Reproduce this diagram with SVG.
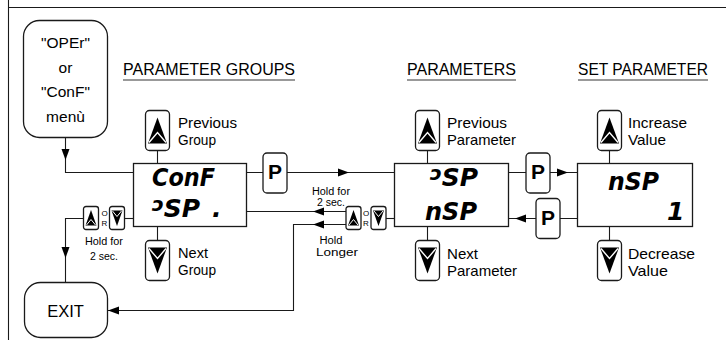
<svg xmlns="http://www.w3.org/2000/svg" xmlns:xlink="http://www.w3.org/1999/xlink" width="726" height="340" viewBox="0 0 726 340">
<style>
.ln{fill:none;stroke:#1a1a1a;stroke-width:1.1}
.bx{fill:#fff;stroke:#1a1a1a;stroke-width:1.3}
.t{font-family:"Liberation Sans",Arial,sans-serif;fill:#000}
.h{font-size:17px}
.lb{font-size:15px}
.sm{font-size:11.5px}
.xs{font-size:10px}
.or{font-size:8px}
.d{font-family:"DejaVu Sans",sans-serif;font-weight:bold;font-style:italic;font-size:25px;fill:#000}
.ul{stroke:#777;stroke-width:1.6}
</style>
<defs>
<path id="ah" d="M0,0 L-11,-4 L-11,4 Z" fill="#000"/>
<g id="kup">
<rect x="0" y="0" width="24" height="40" rx="4" class="bx"/>
<path d="M12,7 L21.5,33 L2.5,33 Z" fill="#000"/>
<path d="M3.5,32 L12,22 L20.5,32" fill="none" stroke="#fff" stroke-width="1.4"/>
</g>
<g id="kdn">
<rect x="0" y="0" width="24" height="40" rx="4" class="bx"/>
<path d="M2.5,7 L21.5,7 L12,33 Z" fill="#000"/>
<path d="M3.5,8 L12,18 L20.5,8" fill="none" stroke="#fff" stroke-width="1.4"/>
</g>
<g id="kp">
<rect x="0" y="0" width="24" height="40" rx="4" class="bx"/>
<text x="12" y="26" text-anchor="middle" style="font-family:'Liberation Sans',Arial,sans-serif;font-weight:bold;font-size:21px">P</text>
</g>
<g id="sup">
<rect x="0" y="0" width="15" height="23" rx="2.5" class="bx"/>
<path d="M7.5,3.5 L13,19 L2,19 Z" fill="#000"/>
<path d="M3,18.5 L7.5,13 L12,18.5" fill="none" stroke="#fff" stroke-width="1"/>
</g>
<g id="sdn">
<rect x="0" y="0" width="15" height="23" rx="2.5" class="bx"/>
<path d="M2,4 L13,4 L7.5,19.5 Z" fill="#000"/>
<path d="M3,4.5 L7.5,10 L12,4.5" fill="none" stroke="#fff" stroke-width="1"/>
</g>
</defs>
<rect width="726" height="340" fill="#fff"/>
<path d="M8.5,0 V340 M8.5,7.5 H726" class="ln"/>

<g id="connectors">
<path class="ln" d="M65.5,138 V172.5 H133"/>
<path class="ln" d="M157.5,150 V163 M157.5,227 V240"/>
<path class="ln" d="M247,172.5 H263 M287,172.5 H394"/>
<path class="ln" d="M427.5,150 V163 M427.5,227 V240"/>
<path class="ln" d="M509,172.5 H526 M550,172.5 H577"/>
<path class="ln" d="M509,218.5 H536 M560,218.5 H577"/>
<path class="ln" d="M609.5,150 V163 M609.5,227 V240"/>
<path class="ln" d="M386,218.5 H394"/>
<path class="ln" d="M346,211.5 H247"/>
<path class="ln" d="M346,224.5 H293.5 V310.5 H107"/>
<path class="ln" d="M124,218.5 H133"/>
<path class="ln" d="M83.5,218.5 H65.5 V282"/>
<use xlink:href="#ah" transform="translate(65.5,160) rotate(90)"/>
<use xlink:href="#ah" transform="translate(349,172.5)"/>
<use xlink:href="#ah" transform="translate(568,172.5)"/>
<use xlink:href="#ah" transform="translate(515,218.5) rotate(180)"/>
<use xlink:href="#ah" transform="translate(313,211.5) rotate(180)"/>
<use xlink:href="#ah" transform="translate(313,224.5) rotate(180)"/>
<use xlink:href="#ah" transform="translate(65.5,258) rotate(90)"/>
<use xlink:href="#ah" transform="translate(108,310.5) rotate(180)"/>
</g>

<g id="menu">
<rect x="23.5" y="20.5" width="84" height="117" rx="16" class="bx"/>
<text class="t" x="65.5" y="48" text-anchor="middle" font-size="15.5">"OPEr"</text>
<text class="t" x="65.5" y="72.5" text-anchor="middle" font-size="15.5">or</text>
<text class="t" x="65.5" y="97" text-anchor="middle" font-size="15.5">"ConF"</text>
<text class="t" x="65.5" y="121.5" text-anchor="middle" font-size="15.5">menù</text>
</g>

<g id="exit">
<rect x="24.5" y="282.5" width="83" height="55" rx="16" class="bx"/>
<text class="t" x="65.5" y="317" text-anchor="middle" font-size="16.5">EXIT</text>
</g>

<g id="headings">
<text class="t h" x="123" y="75" textLength="172" lengthAdjust="spacingAndGlyphs">PARAMETER GROUPS</text>
<line class="ul" x1="123" y1="80" x2="295" y2="80"/>
<text class="t h" x="407" y="75" textLength="109" lengthAdjust="spacingAndGlyphs">PARAMETERS</text>
<line class="ul" x1="407" y1="80" x2="516" y2="80"/>
<text class="t h" x="578" y="75" textLength="130" lengthAdjust="spacingAndGlyphs">SET PARAMETER</text>
<line class="ul" x1="578" y1="80" x2="708" y2="80"/>
</g>

<g id="group-display">
<rect x="133.5" y="163.5" width="113" height="63" class="bx"/>
<text class="d" x="152" y="185.5" textLength="63" lengthAdjust="spacingAndGlyphs">ConF</text>
<text class="d" x="152" y="216.5"><tspan font-size="20" dy="-6">ɔ</tspan><tspan dy="6">SP</tspan></text>
<text class="d" x="212" y="216.5">.</text>
</g>
<g id="group-prev">
<use xlink:href="#kup" x="145.5" y="110.5"/>
<text class="t lb" x="178" y="128" textLength="59" lengthAdjust="spacingAndGlyphs">Previous</text>
<text class="t lb" x="178" y="145" textLength="38" lengthAdjust="spacingAndGlyphs">Group</text>
</g>
<g id="group-next">
<use xlink:href="#kdn" x="145.5" y="240.5"/>
<text class="t lb" x="178" y="258" textLength="30" lengthAdjust="spacingAndGlyphs">Next</text>
<text class="t lb" x="178" y="275" textLength="38" lengthAdjust="spacingAndGlyphs">Group</text>
</g>
<g id="p-key-1"><use xlink:href="#kp" x="263" y="153"/></g>

<g id="param-display">
<rect x="394.5" y="163.5" width="114" height="63" class="bx"/>
<text class="d" x="430" y="185.5"><tspan font-size="20" dy="-6">ɔ</tspan><tspan dy="6">SP</tspan></text>
<text class="d" x="425" y="220" textLength="52" lengthAdjust="spacingAndGlyphs">nSP</text>
</g>
<g id="param-prev">
<use xlink:href="#kup" x="415.5" y="110.5"/>
<text class="t lb" x="447" y="128" textLength="60" lengthAdjust="spacingAndGlyphs">Previous</text>
<text class="t lb" x="447" y="145" textLength="69" lengthAdjust="spacingAndGlyphs">Parameter</text>
</g>
<g id="param-next">
<use xlink:href="#kdn" x="415.5" y="240.5"/>
<text class="t lb" x="447" y="258.5" textLength="31" lengthAdjust="spacingAndGlyphs">Next</text>
<text class="t lb" x="447" y="275.5" textLength="70" lengthAdjust="spacingAndGlyphs">Parameter</text>
</g>
<g id="p-key-2"><use xlink:href="#kp" x="526" y="153"/></g>
<g id="p-key-3"><use xlink:href="#kp" x="536" y="198.5"/></g>

<g id="set-display">
<rect x="577.5" y="163.5" width="115" height="63" class="bx"/>
<text class="d" x="608" y="190" textLength="51" lengthAdjust="spacingAndGlyphs">nSP</text>
<text class="d" x="667" y="220">1</text>
</g>
<g id="set-inc">
<use xlink:href="#kup" x="597.5" y="110.5"/>
<text class="t lb" x="628" y="128" textLength="59" lengthAdjust="spacingAndGlyphs">Increase</text>
<text class="t lb" x="628" y="145" textLength="38" lengthAdjust="spacingAndGlyphs">Value</text>
</g>
<g id="set-dec">
<use xlink:href="#kdn" x="597.5" y="240.5"/>
<text class="t lb" x="628" y="258.5" textLength="67" lengthAdjust="spacingAndGlyphs">Decrease</text>
<text class="t lb" x="628" y="275.5" textLength="40" lengthAdjust="spacingAndGlyphs">Value</text>
</g>

<g id="hold-left">
<use xlink:href="#sup" x="83.5" y="206.5"/>
<use xlink:href="#sdn" x="109.5" y="206.5"/>
<text class="t or" x="104.5" y="216" text-anchor="middle">O</text>
<text class="t or" x="104.5" y="226" text-anchor="middle">R</text>
<text class="t sm" x="104" y="245" text-anchor="middle" textLength="38" lengthAdjust="spacingAndGlyphs">Hold for</text>
<text class="t sm" x="104" y="260" text-anchor="middle" textLength="28" lengthAdjust="spacingAndGlyphs">2 sec.</text>
</g>

<g id="hold-mid">
<use xlink:href="#sup" x="346" y="206.5"/>
<use xlink:href="#sdn" x="371" y="206.5"/>
<text class="t or" x="366" y="216" text-anchor="middle">O</text>
<text class="t or" x="366" y="226" text-anchor="middle">R</text>
<text class="t xs" x="331" y="194.5" text-anchor="middle" textLength="38" lengthAdjust="spacingAndGlyphs">Hold for</text>
<text class="t xs" x="331" y="205.5" text-anchor="middle" textLength="28" lengthAdjust="spacingAndGlyphs">2 sec.</text>
<text class="t xs" x="331" y="244" text-anchor="middle" textLength="23" lengthAdjust="spacingAndGlyphs">Hold</text>
<text class="t xs" x="337" y="255.5" text-anchor="middle" textLength="42" lengthAdjust="spacingAndGlyphs">Longer</text>
</g>
</svg>
